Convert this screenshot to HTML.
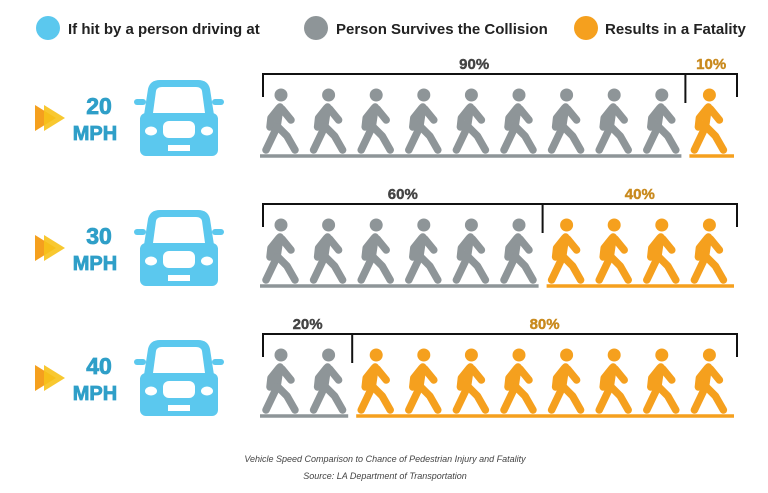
<!DOCTYPE html>
<html><head><meta charset="utf-8"><style>
html,body{margin:0;padding:0;background:#fff;}
body{width:768px;height:488px;overflow:hidden;font-family:"Liberation Sans",sans-serif;}
</style></head><body>
<svg id="chart" width="768" height="488" viewBox="0 0 768 488" xmlns="http://www.w3.org/2000/svg">
<g font-size="15" fill="#222" font-weight="bold">
 <circle cx="48" cy="28" r="12" fill="#5bc8ee"/>
 <text x="68" y="34">If hit by a person driving at</text>
 <circle cx="316" cy="28" r="12" fill="#8e9598"/>
 <text x="336" y="34">Person Survives the Collision</text>
 <circle cx="586" cy="28" r="12" fill="#f5a01e"/>
 <text x="605" y="34">Results in a Fatality</text>
</g>
<g id="rows"></g>
<text x="385" y="462" font-size="9" font-style="italic" fill="#444" text-anchor="middle">Vehicle Speed Comparison to Chance of Pedestrian Injury and Fatality</text>
<text x="385" y="479" font-size="9" font-style="italic" fill="#444" text-anchor="middle">Source: LA Department of Transportation</text>
</svg>
<script>
const speeds = ["20", "30", "40"];
const survivePct = [90, 60, 20];
const fatalPct = [10, 40, 80];

const NS = "http://www.w3.org/2000/svg";
const GRAY = "#8e9598", ORANGE = "#f5a01e", BLUE = "#5bc8ee";
const rowsG = document.getElementById("rows");
const rowTop = i => 74 + i * 130;
const slotX = k => 281 + k * 47.6;
function mk(tag, attrs, parent) {
  const e = document.createElementNS(NS, tag);
  for (const a in attrs) e.setAttribute(a, attrs[a]);
  parent.appendChild(e);
  return e;
}
function walker(cx, headY, color, parent) {
  const g = mk("g", {transform: `translate(${cx},${headY})`, stroke: color, fill: "none", "stroke-width": 7.5, "stroke-linecap": "round", "stroke-linejoin": "round"}, parent);
  
  
  mk("circle", {cx: 0, cy: -1, r: 6.5, fill: color, stroke: "none"}, g);
  mk("polyline", {points: "-1,11 -4,31"}, g);
  mk("polyline", {points: "-2,12 -10,22 -11,31"}, g);
  mk("polyline", {points: "1,13 10,24"}, g);
  mk("polyline", {points: "-4,31 -15,54"}, g);
  mk("polyline", {points: "-3,31 6,40 14,54"}, g);
}
function car(x, y, parent) {
  const g = mk("g", {transform: `translate(${x},${y})`, fill: BLUE}, parent);
  
  
  mk("path", {d: "M10,36 L14,10 Q16,1 26,1 L64,1 Q74,1 76,10 L80,36 Z"}, g);
  mk("path", {d: "M19,34 L22,12 Q23,8 28,8 L62,8 Q67,8 68,12 L71,34 Z", fill: "#fff"}, g);
  mk("rect", {x: 0, y: 20, width: 12, height: 6, rx: 3}, g);
  mk("rect", {x: 78, y: 20, width: 12, height: 6, rx: 3}, g);
  mk("rect", {x: 6, y: 34, width: 78, height: 43, rx: 6}, g);
  mk("ellipse", {cx: 17, cy: 52, rx: 6, ry: 4.5, fill: "#fff"}, g);
  mk("ellipse", {cx: 73, cy: 52, rx: 6, ry: 4.5, fill: "#fff"}, g);
  mk("rect", {x: 29, y: 42, width: 32, height: 17, rx: 6, fill: "#fff"}, g);
  mk("rect", {x: 34, y: 66, width: 22, height: 6, fill: "#fff"}, g);
}
speeds.forEach((sp, i) => {
  const t = rowTop(i);
  const g = mk("g", {}, rowsG);
  
  
  mk("polygon", {points: `35,${t+31} 56,${t+44} 35,${t+57}`, fill: ORANGE}, g);
  mk("polygon", {points: `44,${t+31} 65,${t+44} 44,${t+57}`, fill: "#f7c21a", opacity: 0.9}, g);
  const sl = mk("text", {x: 99, y: t + 40, "font-size": 23, "font-weight": "bold", fill: "#2f9fc8", stroke: "#2f9fc8", "stroke-width": 0.8, "text-anchor": "middle"}, g);
  sl.textContent = sp;
  
  
  const ml = mk("text", {x: 95, y: t + 66, "font-size": 20, "font-weight": "bold", fill: "#2f9fc8", stroke: "#2f9fc8", "stroke-width": 0.8, "text-anchor": "middle"}, g);
  ml.textContent = "MPH";
  
  
  car(134, t + 5, g);
  const nS = Math.round(survivePct[i] / 10);
  const nF = Math.round(fatalPct[i] / 10);
  const divX = slotX(nS) - 24;
  const br = mk("path", {d: `M263,${t+23} L263,${t} L737,${t} L737,${t+23} M${divX},${t} L${divX},${t+29}`, stroke: "#111", "stroke-width": 2, fill: "none"}, g);
  
  
  const l1 = mk("text", {x: (263 + divX) / 2, y: t - 5, "font-size": 15, "font-weight": "bold", fill: "#444", stroke: "#444", "stroke-width": 0.4, "text-anchor": "middle"}, g);
  l1.textContent = survivePct[i] + "%";
  
  
  const l2 = mk("text", {x: (divX + 737) / 2, y: t - 5, "font-size": 15, "font-weight": "bold", fill: "#c98a1e", stroke: "#c98a1e", "stroke-width": 0.4, "text-anchor": "middle"}, g);
  l2.textContent = fatalPct[i] + "%";
  
  
  for (let k = 0; k < nS + nF; k++) walker(slotX(k), t + 22, k < nS ? GRAY : ORANGE, g);
  const u1 = mk("line", {x1: 260, x2: divX - 4, y1: t + 82, y2: t + 82, stroke: GRAY, "stroke-width": 3.5}, g);
  
  
  const u2 = mk("line", {x1: divX + 4, x2: 734, y1: t + 82, y2: t + 82, stroke: ORANGE, "stroke-width": 3.5}, g);
  
  
});
</script>
</body></html>
